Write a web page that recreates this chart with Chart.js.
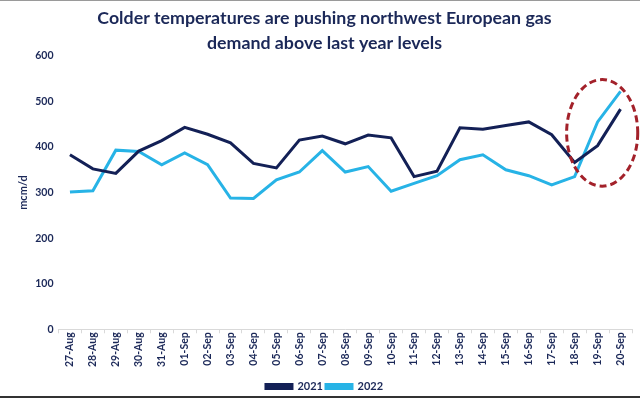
<!DOCTYPE html>
<html>
<head>
<meta charset="utf-8">
<script src="https://cdn.jsdelivr.net/npm/chart.js@4.4.0/dist/chart.umd.min.js"></script>
<style>
  html, body { margin: 0; padding: 0; background: #fff; }
  #wrap { width: 640px; height: 398px; position: relative; }
  #wrap canvas { position: absolute; left: 0; top: 0; }
  .edge-top { position: absolute; left: 0; top: 0; width: 640px; height: 1px; background: #9a9a9a; }
  .edge-bottom { position: absolute; left: 0; bottom: 0; width: 640px; height: 2px; background: #333; }
</style>
</head>
<body>
<div id="wrap">
  <canvas id="chart" width="640" height="398"></canvas>
  <div class="edge-top"></div>
  <div class="edge-bottom"></div>
</div>
<script>
const categories = ['27-Aug', '28-Aug', '29-Aug', '30-Aug', '31-Aug', '01-Sep', '02-Sep', '03-Sep',
  '04-Sep', '05-Sep', '06-Sep', '07-Sep', '08-Sep', '09-Sep', '10-Sep', '11-Sep', '12-Sep',
  '13-Sep', '14-Sep', '15-Sep', '16-Sep', '17-Sep', '18-Sep', '19-Sep', '20-Sep'];

const demand2021 = [383, 352, 342, 391, 414, 443, 428, 409, 364, 354, 415, 424, 407, 426, 420,
  335, 347, 442, 439, 447, 455, 427, 366, 403, 483];

const demand2022 = [301, 304, 393, 390, 361, 387, 361, 288, 287, 328, 345, 392, 345, 357, 303,
  320, 337, 372, 383, 350, 337, 317, 335, 455, 522];

const yTicks = [0, 100, 200, 300, 400, 500, 600];

const NAVY = '#132056';
const SKY = '#27b3e6';
const TEXT = '#1b2858';

// red dashed ring around the last days, in data units
const highlight = { xCenter: 23.2, yCenter: 431, xRadius: 1.55, yRadius: 117 };

const ellipsePlugin = {
  id: 'ellipsePlugin',
  afterDatasetsDraw(chart) {
    const { ctx, scales: { x, y } } = chart;
    const step = x.getPixelForValue(1) - x.getPixelForValue(0);
    const cx = x.getPixelForValue(0) + highlight.xCenter * step;
    const cy = y.getPixelForValue(highlight.yCenter);
    const rx = highlight.xRadius * step;
    const ry = Math.abs(y.getPixelForValue(highlight.yCenter + highlight.yRadius) - cy);
    ctx.save();
    ctx.strokeStyle = '#a3212a';
    ctx.lineWidth = 3;
    ctx.setLineDash([7, 4]);
    ctx.beginPath();
    ctx.ellipse(cx, cy, rx, ry, 0, 0, Math.PI * 2);
    ctx.stroke();
    ctx.restore();
  },
};

Chart.defaults.font.family = 'Lato, "Open Sans", sans-serif';
Chart.defaults.font.weight = 'bold';
Chart.defaults.color = TEXT;

new Chart(document.getElementById('chart'), {
  type: 'line',
  data: {
    labels: categories,
    datasets: [
      { label: '2021', data: demand2021, borderColor: NAVY, backgroundColor: NAVY, borderWidth: 3, pointRadius: 0, tension: 0 },
      { label: '2022', data: demand2022, borderColor: SKY, backgroundColor: SKY, borderWidth: 3, pointRadius: 0, tension: 0 },
    ],
  },
  options: {
    responsive: false,
    animation: false,
    layout: { padding: { left: 17, right: 8, top: 0, bottom: -4 } },
    plugins: {
      title: {
        display: true,
        text: ['Colder temperatures are pushing northwest European gas', 'demand above last year levels'],
        color: '#1b2858',
        font: { size: 17.8, weight: 'bold', lineHeight: 1.4 },
        padding: { top: 6, bottom: 0 },
      },
      legend: {
        position: 'bottom',
        labels: { boxWidth: 26, boxHeight: 4, padding: 3, color: TEXT, font: { size: 11, weight: 'bold' } },
      },
      tooltip: { enabled: false },
    },
    scales: {
      x: {
        offset: true,
        // leave a little room between the date labels and the legend
        afterFit(axis) { axis.height += 12; },
        grid: { display: true, drawOnChartArea: false, tickLength: 4, color: '#d9d9d9', offset: true },
        border: { color: '#d9d9d9' },
        ticks: { minRotation: 90, maxRotation: 90, autoSkip: false, color: TEXT, font: { size: 10.5, weight: 'bold' }, padding: -1 },
      },
      y: {
        min: 0,
        max: 600,
        afterBuildTicks(axis) { axis.ticks = yTicks.map(v => ({ value: v })); },
        grid: { display: false, drawTicks: false },
        border: { display: false },
        ticks: { color: TEXT, font: { size: 10.5, weight: 'bold' }, padding: 5 },
        title: { display: true, text: 'mcm/d', color: TEXT, font: { size: 11, weight: 'bold' }, padding: { top: 0, bottom: 0 } },
      },
    },
  },
  plugins: [ellipsePlugin],
});
</script>
</body>
</html>
